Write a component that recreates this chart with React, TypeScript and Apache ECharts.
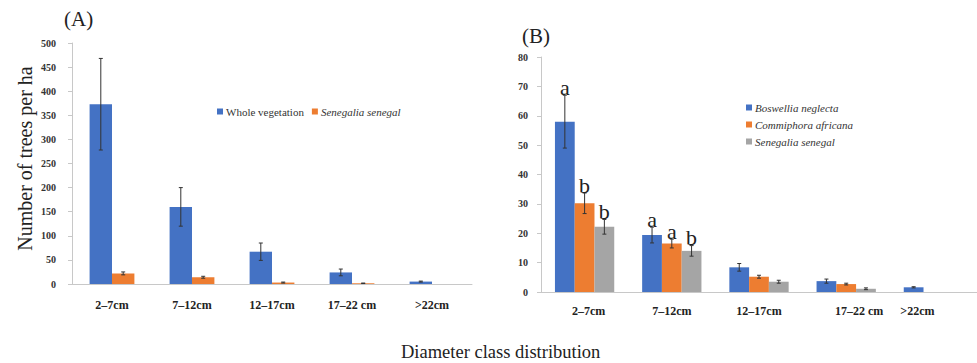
import React, { useEffect, useRef } from "react";
import * as echarts from "echarts";

const categoriesA = ["2–7cm", "7–12cm", "12–17cm", "17–22 cm", ">22cm"];
const wholeVeg = [373, 160, 67, 24, 5];
const wholeVegErr = [95, 40, 18, 7, 1];
const senegalA = [22, 14, 3, 1.5, 0];
const senegalAErr = [3, 2, 1, 0.5, 0];

const categoriesB = ["2–7cm", "7–12cm", "12–17cm", "17–22 cm", ">22cm"];
const boswellia = [58, 19.4, 8.4, 3.7, 1.6];
const boswelliaErr = [9, 2.7, 1.3, 0.7, 0.2];
const boswelliaLetters = ["a", "a", "", "", ""];
const commiphora = [30.2, 16.5, 5.2, 2.7, 0];
const commiphoraErr = [3.5, 1.5, 0.5, 0.3, 0];
const commiphoraLetters = ["b", "a", "", "", ""];
const senegalB = [22.2, 14, 3.5, 1.1, 0];
const senegalBErr = [2.5, 1.8, 0.5, 0.3, 0];
const senegalBLetters = ["b", "b", "", "", ""];

const BLUE = "#4472C4";
const ORANGE = "#ED7D31";
const GRAY = "#A5A5A5";
const SERIF = "Liberation Serif";

function errorSeries(
  xAxisIndex: number,
  yAxisIndex: number,
  values: number[],
  errs: number[],
  letters: string[],
  idx: number,
  n: number,
  gap: number
) {
  const data = values.map((v, i) => [i, v, errs[i], letters[i] || ""]);
  return {
    type: "custom",
    xAxisIndex,
    yAxisIndex,
    silent: true,
    z: 10,
    data,
    renderItem: (params: any, api: any) => {
      const cat = api.value(0);
      const val = api.value(1);
      const err = api.value(2);
      const letter = data[params.dataIndex][3] as string;
      if (!val) return { type: "group", children: [] };
      const catW = api.size([1, 0])[0];
      const groupW = catW * (1 - gap);
      const barW = groupW / n;
      const off = -groupW / 2 + barW * (idx + 0.5);
      const top = api.coord([cat, val + err]);
      const bot = api.coord([cat, val - err]);
      const x = top[0] + off;
      const cap = 2;
      const lineStyle = { stroke: "#333", lineWidth: 1 };
      const children: any[] = [];
      if (err > 0) {
        children.push(
          { type: "line", shape: { x1: x, y1: top[1], x2: x, y2: bot[1] }, style: lineStyle },
          { type: "line", shape: { x1: x - cap, y1: top[1], x2: x + cap, y2: top[1] }, style: lineStyle },
          { type: "line", shape: { x1: x - cap, y1: bot[1], x2: x + cap, y2: bot[1] }, style: lineStyle }
        );
      }
      if (letter) {
        children.push({
          type: "text",
          style: {
            text: letter,
            x: x,
            y: top[1] + 3,
            align: "center",
            verticalAlign: "bottom",
            fontSize: 22,
            fontFamily: SERIF,
            fill: "#222",
          },
        });
      }
      return { type: "group", children };
    },
  };
}

const GAP_A = 0.44;
const GAP_B = 0.32;

export default function App() {
  const ref = useRef<HTMLDivElement>(null);
  useEffect(() => {
    document.body.style.margin = "0";
    if (!ref.current) return;
    const chart = echarts.init(ref.current, undefined, { renderer: "svg" });
    const yAxisCommon = {
      type: "value",
      axisLine: { show: true, lineStyle: { color: "#c8c8c8" } },
      axisTick: { show: true, length: 4, lineStyle: { color: "#c8c8c8" } },
      splitLine: { show: false },
      axisLabel: { fontFamily: SERIF, fontWeight: "bold", fontSize: 10, color: "#333" },
    };
    const xAxisCommon = {
      type: "category",
      axisLine: { show: true, lineStyle: { color: "#c8c8c8" } },
      axisTick: { show: false },
      axisLabel: { fontFamily: SERIF, fontWeight: "bold", fontSize: 12, color: "#222" },
    };
    const labelShiftB: Record<string, number[]> = {
      "2–7cm": [0, 0, 0, 8],
      "17–22 cm": [0, 0, 0, 26],
      ">22cm": [0, 32, 0, 0],
    };
    chart.setOption({
      animation: false,
      backgroundColor: "#fff",
      textStyle: { fontFamily: SERIF },
      grid: [
        { left: 72, top: 43, width: 400, height: 241 },
        { left: 541, top: 57, width: 436, height: 235 },
      ],
      xAxis: [
        { ...xAxisCommon, gridIndex: 0, data: categoriesA, axisLabel: { ...xAxisCommon.axisLabel, margin: 15 } },
        {
          ...xAxisCommon,
          gridIndex: 1,
          data: categoriesB.map((c) =>
            labelShiftB[c] ? { value: c, textStyle: { padding: labelShiftB[c] } } : c
          ),
          axisLabel: { ...xAxisCommon.axisLabel, margin: 13 },
        },
      ],
      yAxis: [
        {
          ...yAxisCommon,
          gridIndex: 0,
          min: 0,
          max: 500,
          interval: 50,
          axisLabel: { ...yAxisCommon.axisLabel, margin: 16 },
          name: "Number of trees per ha",
          nameLocation: "middle",
          nameRotate: 90,
          nameGap: 37,
          nameTextStyle: { fontFamily: SERIF, fontSize: 20, color: "#222", padding: [0, 0, 0, 10] },
        },
        {
          ...yAxisCommon,
          gridIndex: 1,
          min: 0,
          max: 80,
          interval: 10,
          axisLabel: { ...yAxisCommon.axisLabel, margin: 13 },
        },
      ],
      legend: [
        {
          left: 212,
          top: 101,
          itemWidth: 6,
          itemHeight: 6,
          itemGap: 8,
          icon: "rect",
          textStyle: { fontFamily: SERIF, fontSize: 11, color: "#333", padding: [0, 0, 0, -2] },
          data: [
            { name: "Whole vegetation" },
            { name: "Senegalia senegal ", textStyle: { fontStyle: "italic" } },
          ],
        },
        {
          left: 741,
          top: 97,
          orient: "vertical",
          itemWidth: 6,
          itemHeight: 6,
          itemGap: 6,
          icon: "rect",
          textStyle: { fontFamily: SERIF, fontSize: 11, color: "#333", fontStyle: "italic", padding: [0, 0, 0, -2] },
          data: ["Boswellia neglecta", "Commiphora africana", "Senegalia senegal"],
        },
      ],
      series: [
        { type: "bar", name: "Whole vegetation", xAxisIndex: 0, yAxisIndex: 0, data: wholeVeg, itemStyle: { color: BLUE }, barGap: "0%", barCategoryGap: "44%" },
        { type: "bar", name: "Senegalia senegal ", xAxisIndex: 0, yAxisIndex: 0, data: senegalA, itemStyle: { color: ORANGE }, barGap: "0%", barCategoryGap: "44%" },
        { type: "bar", name: "Boswellia neglecta", xAxisIndex: 1, yAxisIndex: 1, data: boswellia, itemStyle: { color: BLUE }, barGap: "0%", barCategoryGap: "32%" },
        { type: "bar", name: "Commiphora africana", xAxisIndex: 1, yAxisIndex: 1, data: commiphora, itemStyle: { color: ORANGE }, barGap: "0%", barCategoryGap: "32%" },
        { type: "bar", name: "Senegalia senegal", xAxisIndex: 1, yAxisIndex: 1, data: senegalB, itemStyle: { color: GRAY }, barGap: "0%", barCategoryGap: "32%" },
        errorSeries(0, 0, wholeVeg, wholeVegErr, [], 0, 2, GAP_A),
        errorSeries(0, 0, senegalA, senegalAErr, [], 1, 2, GAP_A),
        errorSeries(1, 1, boswellia, boswelliaErr, boswelliaLetters, 0, 3, GAP_B),
        errorSeries(1, 1, commiphora, commiphoraErr, commiphoraLetters, 1, 3, GAP_B),
        errorSeries(1, 1, senegalB, senegalBErr, senegalBLetters, 2, 3, GAP_B),
      ],
      graphic: [
        { type: "text", left: 64, top: 8, style: { text: "(A)", fontFamily: SERIF, fontSize: 21, fill: "#222" } },
        { type: "text", left: 522, top: 25, style: { text: "(B)", fontFamily: SERIF, fontSize: 21, fill: "#222" } },
        { type: "text", left: 401, top: 342, style: { text: "Diameter class distribution", fontFamily: SERIF, fontSize: 18.5, fill: "#222" } },
      ],
    });
    return () => chart.dispose();
  }, []);
  return <div ref={ref} style={{ width: 977, height: 363 }} />;
}
